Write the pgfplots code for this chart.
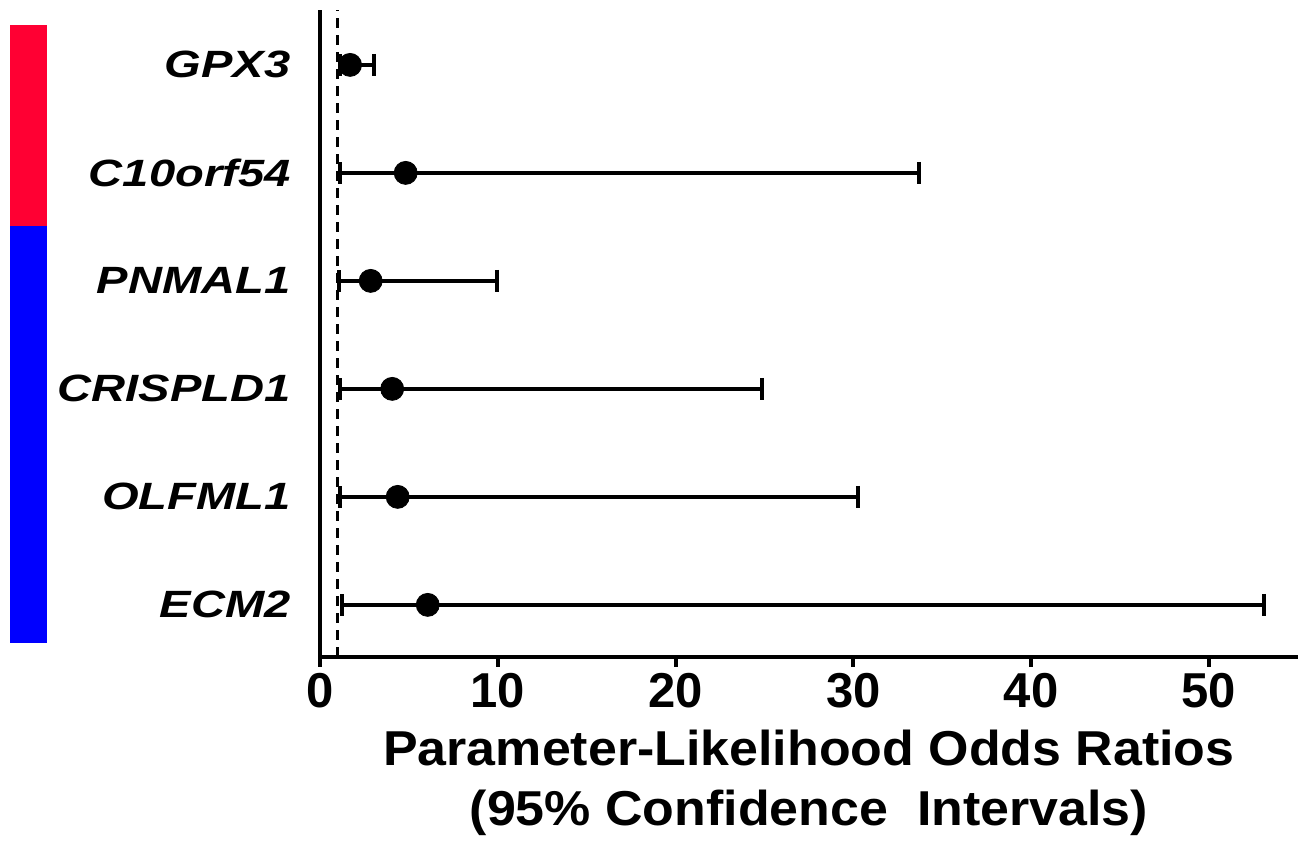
\documentclass[border=0pt]{standalone}
\usepackage{fontspec}
\setmainfont{Liberation Sans}
\usepackage{graphicx}
\usepackage{pgfplots}
\usepackage{pgfplotstable}
\pgfplotsset{compat=1.18}

\definecolor{grpred}{HTML}{FF0033}
\definecolor{grpblue}{HTML}{0000FF}

% odds ratio with 95% CI, y = row position (top = 6)
\pgfplotstableread{
y or  lo  hi
6 1.69 1.12 3.04
5 4.82 1.10 33.7
4 2.85 1.07 9.94
3 4.06 1.10 24.87
2 4.37 1.10 30.27
1 6.06 1.22 53.07
}\ortable

\newcommand{\gene}[1]{\scalebox{1.24}[1]{#1}}

\begin{document}
\begin{tikzpicture}
\begin{axis}[
  scale only axis,
  width=489pt, height=323.5pt,
  xmin=0, xmax=55, ymin=0.52, ymax=6.51,
  axis x line*=bottom, axis y line*=left,
  axis line style={line width=2pt, black},
  xtick={0,10,20,30,40,50},
  ytick={1,2,3,4,5,6},
  yticklabels={\gene{ECM2},\gene{OLFML1},\gene{CRISPLD1},\gene{PNMAL1},\gene{C10orf54},\gene{GPX3}},
  tick align=outside,
  major tick length=5pt,
  xtick style={line width=2pt, black},
  ytick style={draw=none},
  /pgf/number format/assume math mode=true,
  xticklabel style={font=\bfseries\fontsize{24.5}{28}\selectfont},
  yticklabel style={font=\bfseries\itshape\fontsize{19}{22}\selectfont, anchor=east, inner sep=0pt, xshift=-9.5pt},
  xlabel={\scalebox{1.06}[1]{Parameter-Likelihood Odds Ratios}\\\scalebox{1.06}[1]{(95\% Confidence\ \ Intervals)}},
  xlabel style={align=center, font=\bfseries\fontsize{24.5}{30}\selectfont, yshift=-4pt},
  clip=false,
]
  % group colour bars on the left
  \fill[grpred] (axis cs:-17.44,6.37) rectangle (axis cs:-15.36,4.511);
  \fill[grpblue] (axis cs:-17.44,4.511) rectangle (axis cs:-15.36,0.648);
  % reference line at OR = 1
  \addplot[black, line width=1.6pt, dash pattern=on 5pt off 3.5pt] coordinates {(1,0.52) (1,6.51)};
  \addplot[only marks, mark=*, mark size=5.75pt, black,
    error bars/.cd, x dir=both, x explicit,
    error bar style={line width=2pt, black},
    error mark=|, error mark options={mark size=5.5pt, line width=2pt, black}]
    table[x=or, y=y,
      x error plus expr=\thisrow{hi}-\thisrow{or},
      x error minus expr=\thisrow{or}-\thisrow{lo}] {\ortable};
  % canvas extent
  \path (axis cs:-18.0,6.601) rectangle (axis cs:55.46,-1.165);
\end{axis}
\end{tikzpicture}
\end{document}
